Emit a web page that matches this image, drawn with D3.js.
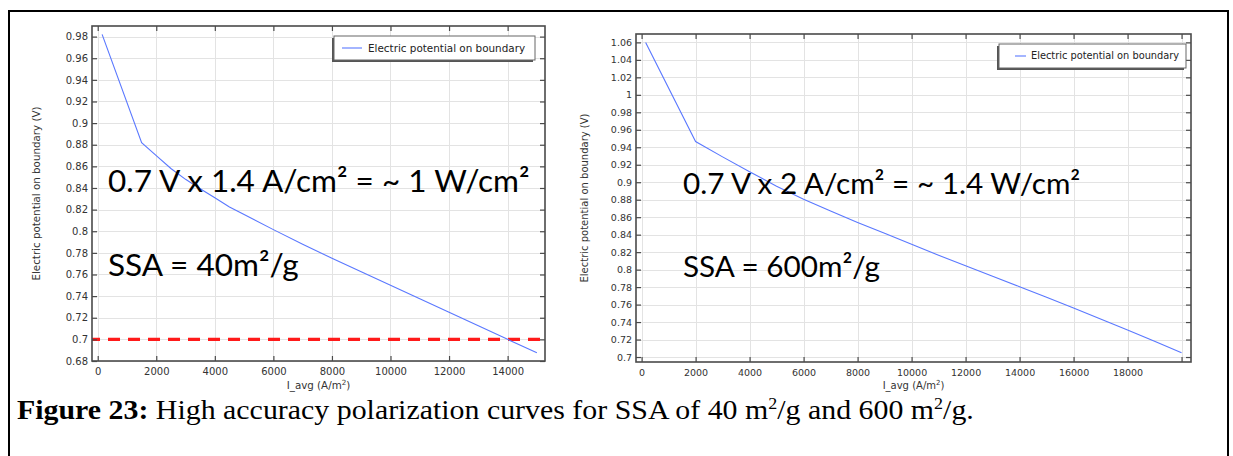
<!DOCTYPE html>
<html>
<head>
<meta charset="utf-8">
<script src="https://cdn.jsdelivr.net/npm/d3@7"></script>
<style>
  html, body { margin: 0; padding: 0; background: #fff; }
  svg { display: block; }
</style>
</head>
<body>
<svg id="fig" width="1233" height="456"></svg>
<script>
// Polarization curves: average current density (A/m^2) vs. boundary potential (V)
const lowSsaCurrent = [150, 1500, 2000, 2500, 3000, 3500, 4000, 4500, 5000, 6000, 7000, 8000, 9000, 10000, 11000, 12000, 13000, 14000, 15000];
const lowSsaVoltage = [0.982, 0.882, 0.870, 0.858, 0.848, 0.8393, 0.831, 0.8225, 0.8155, 0.8015, 0.788, 0.775, 0.7625, 0.750, 0.7375, 0.725, 0.7125, 0.700, 0.6877];

const highSsaCurrent = [150, 2000, 3000, 4000, 5000, 6000, 7000, 8000, 9000, 10000, 11000, 12000, 13000, 14000, 15000, 16000, 17000, 18000, 19000, 20000];
const highSsaVoltage = [1.060, 0.9465, 0.929, 0.912, 0.8955, 0.8805, 0.867, 0.854, 0.8415, 0.829, 0.8165, 0.8045, 0.7925, 0.7805, 0.7685, 0.756, 0.7435, 0.731, 0.718, 0.705];

// Tick values
const lowSsaXTicks = [0, 2000, 4000, 6000, 8000, 10000, 12000, 14000];
const lowSsaYTicks = [0.68, 0.70, 0.72, 0.74, 0.76, 0.78, 0.80, 0.82, 0.84, 0.86, 0.88, 0.90, 0.92, 0.94, 0.96, 0.98];
const highSsaXTicks = [0, 2000, 4000, 6000, 8000, 10000, 12000, 14000, 16000, 18000, 20000];
const highSsaXLabelled = [0, 2000, 4000, 6000, 8000, 10000, 12000, 14000, 16000, 18000];
const highSsaYTicks = [0.70, 0.72, 0.74, 0.76, 0.78, 0.80, 0.82, 0.84, 0.86, 0.88, 0.90, 0.92, 0.94, 0.96, 0.98, 1.00, 1.02, 1.04, 1.06];

// Operating-point reference voltage
const targetVoltage = [0.7];

// Texts
const legendLabel = "Electric potential on boundary";
const yTitle = "Electric potential on boundary (V)";
const lowSsaNotes = ["0.7 V x 1.4 A/cm² = ~ 1 W/cm²", "SSA = 40m²/g"];
const highSsaNotes = ["0.7 V x 2 A/cm² = ~ 1.4 W/cm²", "SSA = 600m²/g"];

const svg = d3.select("#fig");
const LINE = "#5a78ff";
const AX = "#4a4a4a";
const TXT = "#333";
const TICKFONT = "DejaVu Sans, sans-serif";

// Outer frame (top, left, right)
svg.append("path")
  .attr("d", "M9,456 L9,11 L1228,11 L1228,456")
  .attr("fill", "none").attr("stroke", "#000").attr("stroke-width", 2);

function drawPanel(cfg) {
  const g = svg.append("g");
  const x = d3.scaleLinear().domain(cfg.xDomain).range([cfg.left, cfg.right]);
  const y = d3.scaleLinear().domain(cfg.yDomain).range([cfg.bottom, cfg.top]);

  // gridlines
  g.append("g").selectAll("line").data(cfg.xTicks).join("line")
    .attr("x1", d => Math.round(x(d)) + 0.5).attr("x2", d => Math.round(x(d)) + 0.5)
    .attr("y1", cfg.top).attr("y2", cfg.bottom)
    .attr("stroke", "#e3e3e3").attr("stroke-width", 1);
  g.append("g").selectAll("line").data(cfg.yTicks).join("line")
    .attr("y1", d => Math.round(y(d)) + 0.5).attr("y2", d => Math.round(y(d)) + 0.5)
    .attr("x1", cfg.left).attr("x2", cfg.right)
    .attr("stroke", "#e3e3e3").attr("stroke-width", 1);

  // reference line
  if (cfg.refLine) {
    g.append("g").selectAll("line").data(targetVoltage).join("line")
      .attr("x1", cfg.left).attr("x2", cfg.right)
      .attr("y1", d => y(d)).attr("y2", d => y(d))
      .attr("stroke", "#ff1a1a").attr("stroke-width", 3.2)
      .attr("stroke-dasharray", "12,8").attr("stroke-dashoffset", 4);
  }

  // curve
  const pts = cfg.xs.map((v, i) => [v, cfg.ys[i]]);
  g.append("path").datum(pts)
    .attr("d", d3.line().x(d => x(d[0])).y(d => y(d[1])))
    .attr("fill", "none").attr("stroke", LINE).attr("stroke-width", 1.1);

  // annotations
  cfg.notes.forEach((t, i) => {
    g.append("text")
      .attr("x", cfg.noteX).attr("y", cfg.noteY[i])
      .attr("font-family", "Lato, Carlito, sans-serif")
      .attr("font-size", cfg.noteSize)
      .attr("fill", "#000")
      .text(t);
  });

  // axes (ticks point inward)
  const fmt = d => String(+d.toFixed(2));
  const ax = g.append("g").attr("transform", `translate(${cfg.left},0)`)
    .call(d3.axisLeft(y).tickValues(cfg.yTicks).tickFormat(fmt).tickSizeInner(-5).tickSizeOuter(0).tickPadding(4));
  const axR = g.append("g").attr("transform", `translate(${cfg.right},0)`)
    .call(d3.axisRight(y).tickValues(cfg.yTicks).tickFormat("").tickSizeInner(-5).tickSizeOuter(0));
  const axB = g.append("g").attr("transform", `translate(0,${cfg.bottom})`)
    .call(d3.axisBottom(x).tickValues(cfg.xTicks)
      .tickFormat(d => cfg.xLabelled.includes(d) ? String(d) : "")
      .tickSizeInner(-5).tickSizeOuter(0).tickPadding(7));
  const axT = g.append("g").attr("transform", `translate(0,${cfg.top})`)
    .call(d3.axisTop(x).tickValues(cfg.xTicks).tickFormat("").tickSizeInner(-5).tickSizeOuter(0));
  [ax, axR, axB, axT].forEach(a => {
    a.select(".domain").remove();
    a.selectAll(".tick line").attr("stroke", AX).attr("stroke-width", 1.2);
    a.selectAll("text").attr("font-family", TICKFONT).attr("font-size", cfg.tickSize).attr("fill", TXT);
  });

  // frame
  g.append("rect")
    .attr("x", cfg.left).attr("y", cfg.top)
    .attr("width", cfg.right - cfg.left).attr("height", cfg.bottom - cfg.top)
    .attr("fill", "none").attr("stroke", AX).attr("stroke-width", 1.6);

  // axis titles
  g.append("text")
    .attr("transform", `translate(${cfg.yTitleX},${(cfg.top + cfg.bottom) / 2}) rotate(-90)`)
    .attr("text-anchor", "middle")
    .attr("font-family", TICKFONT).attr("font-size", cfg.titleSize).attr("fill", TXT)
    .text(yTitle);
  const xt = g.append("text")
    .attr("x", (cfg.left + cfg.right) / 2).attr("y", cfg.xTitleY)
    .attr("text-anchor", "middle")
    .attr("font-family", TICKFONT).attr("font-size", cfg.titleSize).attr("fill", TXT);
  xt.append("tspan").text("I_avg (A/m");
  xt.append("tspan").attr("baseline-shift", "super").attr("font-size", cfg.titleSize * 0.7).text("2");
  xt.append("tspan").text(")");

  // legend
  const L = cfg.legend;
  g.append("rect").attr("x", L.x - 2).attr("y", L.y + 2).attr("width", L.w).attr("height", L.h)
    .attr("fill", "#555");
  g.append("rect").attr("x", L.x).attr("y", L.y).attr("width", L.w).attr("height", L.h)
    .attr("fill", "#fff").attr("stroke", "#666").attr("stroke-width", 1);
  g.append("line")
    .attr("x1", L.x + L.lineX0).attr("x2", L.x + L.lineX1)
    .attr("y1", L.y + L.h / 2).attr("y2", L.y + L.h / 2)
    .attr("stroke", LINE).attr("stroke-width", 1.1);
  g.append("text")
    .attr("x", L.x + L.textX).attr("y", L.y + L.h / 2)
    .attr("dy", "0.35em")
    .attr("font-family", TICKFONT).attr("font-size", L.size).attr("fill", "#222")
    .text(legendLabel);
}

drawPanel({
  xs: lowSsaCurrent, ys: lowSsaVoltage,
  xDomain: [-195, 15277], yDomain: [0.68, 0.9898],
  left: 92, right: 545, top: 26, bottom: 361,
  xTicks: lowSsaXTicks, xLabelled: lowSsaXTicks, yTicks: lowSsaYTicks,
  refLine: true,
  notes: lowSsaNotes, noteX: 108, noteY: [192, 276], noteSize: 31.5,
  tickSize: 10, titleSize: 10.3,
  yTitleX: 40, xTitleY: 389,
  legend: { x: 334, y: 36, w: 201, h: 24, lineX0: 8, lineX1: 28, textX: 34, size: 10.4 }
});

drawPanel({
  xs: highSsaCurrent, ys: highSsaVoltage,
  xDomain: [-207, 20350], yDomain: [0.6943, 1.0696],
  left: 636, right: 1191, top: 34, bottom: 362,
  xTicks: highSsaXTicks, xLabelled: highSsaXLabelled, yTicks: highSsaYTicks,
  refLine: false,
  notes: highSsaNotes, noteX: 683, noteY: [194, 277], noteSize: 29.7,
  tickSize: 9.5, titleSize: 10,
  yTitleX: 588, xTitleY: 389,
  legend: { x: 999, y: 44, w: 187, h: 24, lineX0: 16, lineX1: 27, textX: 32, size: 9.8 }
});

// Caption
const cap = svg.append("text")
  .attr("transform", "translate(17,419) scale(1.06,1)")
  .attr("font-family", "Liberation Serif, Times New Roman, serif")
  .attr("font-size", 28.2).attr("fill", "#000");
cap.append("tspan").attr("font-weight", "bold").text("Figure 23:");
cap.append("tspan").text(" High accuracy polarization curves for SSA of 40 m");
cap.append("tspan").attr("baseline-shift", "super").attr("font-size", 17).text("2");
cap.append("tspan").text("/g and 600 m");
cap.append("tspan").attr("baseline-shift", "super").attr("font-size", 17).text("2");
cap.append("tspan").text("/g.");
</script>
</body>
</html>
